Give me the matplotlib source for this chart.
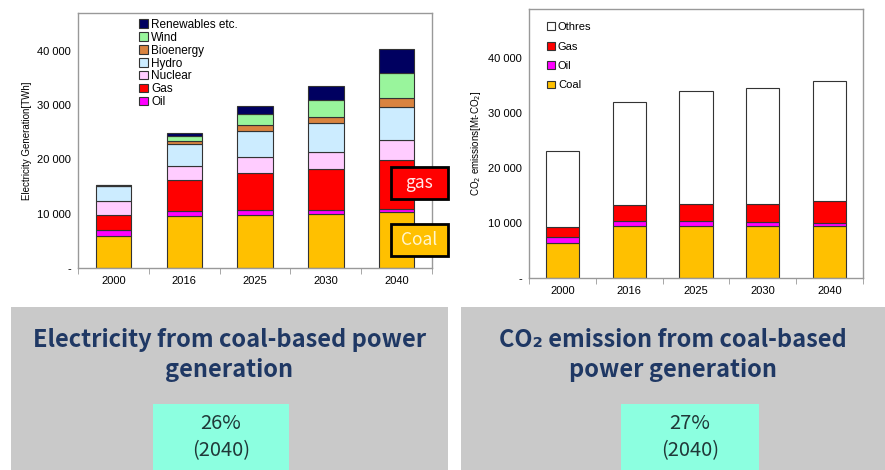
import matplotlib.pyplot as plt
from matplotlib.patches import Rectangle
import numpy as np

plt.rcParams['font.family'] = ['Liberation Sans', 'DejaVu Sans']

# data: electricity generation [TWh]
years = ['2000', '2016', '2025', '2030', '2040']
coal = [5930, 9480, 9790, 9910, 10210]
oil = [1150, 920, 790, 670, 680]
gas = [2750, 5800, 6850, 7590, 8990]
nuclear = [2500, 2640, 3060, 3230, 3670]
hydro = [2700, 3910, 4770, 5270, 6110]
bioenergy = [120, 680, 980, 1160, 1530]
wind = [40, 850, 2140, 3060, 4590]
renewables = [160, 620, 1470, 2570, 4590]

# data: CO2 emissions [Mt-CO2]
co2_coal = [6410, 9440, 9500, 9500, 9500]
co2_oil = [1030, 970, 790, 670, 550]
co2_gas = [1820, 2840, 3080, 3320, 3870]
co2_others = [13860, 18760, 20520, 21060, 21900]

W, H = 885, 470
fig = plt.figure(figsize=(W / 100, H / 100), dpi=100)


def box(x0, y0, x1, y1):
    # pixel box (top-left origin) -> figure fraction rect
    return [x0 / W, 1 - y1 / H, (x1 - x0) / W, (y1 - y0) / H]


def fmt(v):
    return '-' if v == 0 else f'{int(v):,}'.replace(',', ' ')


def style_axes(ax, ymax):
    ax.set_xlim(-0.5, 4.5)
    ax.set_ylim(0, ymax)
    ax.set_yticks(range(0, 40001, 10000))
    ax.set_yticklabels([fmt(v) for v in range(0, 40001, 10000)], fontsize=8)
    ax.tick_params(axis='y', length=0, pad=5)
    ax.set_xticks(range(5))
    ax.set_xticklabels(years, fontsize=8)
    ax.tick_params(axis='x', length=0, pad=6)
    ax.set_xticks(np.arange(-0.5, 5, 1), minor=True)
    ax.tick_params(axis='x', which='minor', length=4, color='#999999', direction='out')
    for s in ax.spines.values():
        s.set_color('#999999')
        s.set_linewidth(1)


def stack(ax, series, colors, labels):
    x = np.arange(len(years))
    bottom = np.zeros(len(years))
    handles = []
    for vals, c, lab in zip(series, colors, labels):
        h = ax.bar(x, vals, 0.5, bottom=bottom, color=c, edgecolor='#333333',
                   linewidth=0.8, label=lab)
        handles.append(h)
        bottom += np.array(vals)
    return handles


# left chart
ax1 = fig.add_axes(box(78, 13, 432, 268))
h1 = stack(ax1, [coal, oil, gas, nuclear, hydro, bioenergy, wind, renewables],
           ['#FFC000', '#FF00FF', '#FF0000', '#FFCCFF', '#CCECFF', '#D9833F', '#99F59C', '#000060'],
           ['Coal', 'Oil', 'Gas', 'Nuclear', 'Hydro', 'Bioenergy', 'Wind', 'Renewables etc.'])
style_axes(ax1, 46900)
ax1.set_ylabel('Electricity Generation[TWh]', fontsize=7, labelpad=4)
ax1.legend(h1[1:][::-1], [h.get_label() for h in h1[1:][::-1]], loc='upper left',
           bbox_to_anchor=(0.15, 1.01), frameon=False, fontsize=8.5, handlelength=0.7,
           handleheight=0.7, handletextpad=0.3, labelspacing=0.08, borderpad=0.2)

# right chart
ax2 = fig.add_axes(box(529, 9, 863, 278))
h2 = stack(ax2, [co2_coal, co2_oil, co2_gas, co2_others],
           ['#FFC000', '#FF00FF', '#FF0000', '#FFFFFF'],
           ['Coal', 'Oil', 'Gas', 'Othres'])
style_axes(ax2, 48800)
ax2.set_ylabel('CO$_2$ emissions[Mt-CO$_2$]', fontsize=7, labelpad=4)
ax2.legend(h2[::-1], [h.get_label() for h in h2[::-1]], loc='upper left',
           bbox_to_anchor=(0.03, 0.98), frameon=False, fontsize=8, handlelength=0.7,
           handleheight=0.7, handletextpad=0.3, labelspacing=0.85, borderpad=0.2)

# gas / Coal labels
for (x0, y0, x1, y1), fc, tc, txt in [((391, 167, 448, 199), '#FF0000', '#FFE8E8', 'gas'),
                                      ((391, 224, 448, 256), '#FFC000', '#FFF6D0', 'Coal')]:
    fig.add_artist(Rectangle(box(x0, y0, x1, y1)[:2], (x1 - x0) / W, (y1 - y0) / H,
                             transform=fig.transFigure, fc=fc, ec='black', lw=2))
    fig.text((x0 + x1) / 2 / W, 1 - (y0 + y1) / 2 / H, txt, color=tc, fontsize=12.5,
             ha='center', va='center', family=['Noto Sans CJK JP', 'DejaVu Sans'])

# bottom panels
cjk = ['Noto Sans CJK JP', 'DejaVu Sans']
for (x0, x1), title, (tx0, tx1), pct in [((11, 448), 'Electricity from coal-based power\ngeneration', (153, 289), '26%'),
                                         ((461, 885), 'CO\u2082 emission from coal-based\npower generation', (621, 759), '27%')]:
    fig.add_artist(Rectangle(box(x0, 307, x1, 470)[:2], (x1 - x0) / W, 163 / H,
                             transform=fig.transFigure, fc='#C9C9C9', ec='none'))
    fig.add_artist(Rectangle(box(tx0, 404, tx1, 470)[:2], (tx1 - tx0) / W, 66 / H,
                             transform=fig.transFigure, fc='#8CFFE0', ec='none'))
    fig.text((x0 + x1) / 2 / W, 1 - 355 / H, title, color='#1F3864', fontsize=17,
             fontweight='bold', ha='center', va='center', linespacing=1.3, family=cjk)
    fig.text((tx0 + tx1) / 2 / W, 1 - 437 / H, f'{pct}\n(2040)', color='#203838',
             fontsize=14.5, ha='center', va='center', linespacing=1.35, family=cjk)

fig.savefig('out.png', dpi=100)
